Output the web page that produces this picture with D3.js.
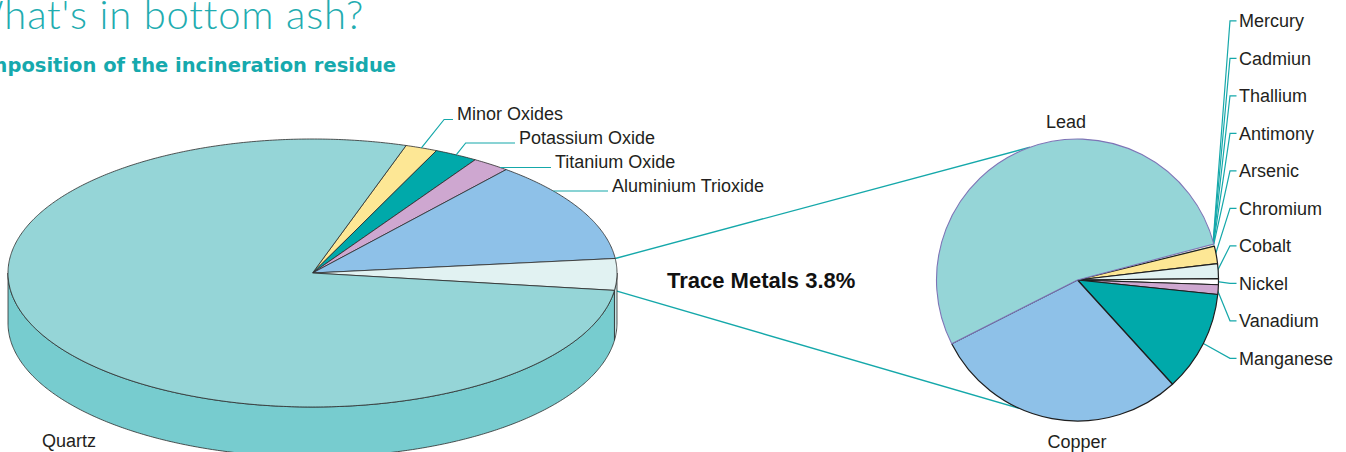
<!DOCTYPE html>
<html>
<head>
<meta charset="utf-8">
<script src="https://cdn.jsdelivr.net/npm/d3@7"></script>
<style>
  html, body { margin: 0; padding: 0; background: #fff; }
  svg { display: block; }
  text { font-family: "Liberation Sans", Arial, sans-serif; fill: #231f20; }
</style>
</head>
<body>
<svg id="chart" width="1346" height="452"></svg>
<script>
// composition of the residue, % (clockwise from Minor Oxides)
const residueNames = ["Minor Oxides", "Potassium Oxide", "Titanium Oxide", "Aluminium Trioxide", "Trace Metals", "Quartz"];
const residueValues = [1.7, 2.3, 2.0, 12.3, 3.8, 77.9];

// split of the trace metals, %
const metalNames = ["Mercury", "Cadmiun", "Thallium", "Antimony", "Arsenic", "Chromium",
  "Cobalt", "Nickel", "Vanadium", "Manganese", "Copper", "Lead"];
const metalValues = [0.05, 0.05, 0.05, 0.05, 0.05, 2.0, 1.7, 0.7, 1.1, 11.6, 29.3, 53.35];

const TITLE = "What's in bottom ash?";
const SUBTITLE = "Composition of the incineration residue";

const residueColors = ["#fde795", "#00a9aa", "#cea7d0", "#8ec1e8", "#e1f2f2", "#95d5d7"];
const residueSide   = ["#e8d27d", "#00979a", "#bb93bd", "#79aed6", "#c9e4e4", "#77cccf"];
const metalColors = ["#8ec1e8", "#cea7d0", "#fde795", "#e1f2f2", "#00a9aa", "#fde795",
  "#e1f2f2", "#ffffff", "#cea7d0", "#00a9aa", "#8ec1e8", "#95d5d7"];
const LEADER = "#15a8aa";
const deg = Math.PI / 180;

const svg = d3.select( "#chart" );

// titles (cut off at the left edge, like the page they come from)
svg.append( "text" )
  .attr( "x", 364 ).attr( "y", 29 )
  .attr( "text-anchor", "end" )
  .style( "font-family", "Lato, 'Open Sans', sans-serif" )
  .style( "font-weight", 300 )
  .style( "font-size", "40px" )
  .style( "letter-spacing", "0.8px" )
  .style( "fill", "#22acb0" )
  .text( TITLE );
svg.append( "text" )
  .attr( "x", 396 ).attr( "y", 72 )
  .attr( "text-anchor", "end" )
  .style( "font-family", "'DejaVu Sans', sans-serif" )
  .style( "font-weight", "bold" )
  .style( "font-size", "19.5px" )
  .style( "fill", "#16a9ad" )
  .text( SUBTITLE );

// ---------- left 3D pie ----------
const L = { cx: 312.5, cy: 273, rx: 304.5, ry: 134, depth: 50 };
const startL = 17.9 * deg;
const residue = residueNames.map( ( name, i ) => ( { name, value: residueValues[i], i } ) );
const arcsL = d3.pie().sort( null ).value( d => d.value )
  .startAngle( startL ).endAngle( startL + 2 * Math.PI )( residue );

const ePt = ( a, dy = 0 ) => [ L.cx + L.rx * Math.sin( a ), L.cy - L.ry * Math.cos( a ) + dy ];
const sampleAngles = ( a0, a1 ) => {
  const n = Math.max( 2, Math.ceil( ( a1 - a0 ) / ( 0.5 * deg ) ) );
  return d3.range( n + 1 ).map( k => a0 + ( a1 - a0 ) * k / n );
};
const line = d3.line();

// trace metal connector geometry
const trace = arcsL.find( d => d.data.name === "Trace Metals" );
const R = { cx: 1077.5, cy: 280, r: 141 };
const cPt = ( a, r = R.r ) => [ R.cx + r * Math.sin( a ), R.cy - r * Math.cos( a ) ];

svg.append( "g" ).selectAll( "line" )
  .data( [ [ ePt( trace.startAngle ), cPt( -19.7 * deg ) ], [ ePt( trace.endAngle ), cPt( 204.4 * deg ) ] ] )
  .join( "line" )
  .attr( "x1", d => d[0][0] ).attr( "y1", d => d[0][1] )
  .attr( "x2", d => d[1][0] ).attr( "y2", d => d[1][1] )
  .attr( "stroke", LEADER ).attr( "stroke-width", 1.4 );

const gL = svg.append( "g" );

// side wall: front half only (90..270 deg)
gL.selectAll( "path.side" )
  .data( arcsL.filter( d => Math.min( d.endAngle, 270 * deg ) > Math.max( d.startAngle, 90 * deg ) ) )
  .join( "path" )
  .attr( "class", "side" )
  .attr( "d", d => {
    const angs = sampleAngles( Math.max( d.startAngle, 90 * deg ), Math.min( d.endAngle, 270 * deg ) );
    const pts = angs.map( a => ePt( a ) ).concat( angs.slice().reverse().map( a => ePt( a, L.depth ) ) );
    return line( pts ) + "Z";
  } )
  .attr( "fill", d => residueSide[d.data.i] )
  .attr( "stroke", "#2b2b2b" ).attr( "stroke-width", 0.8 );

// top face
gL.selectAll( "path.top" )
  .data( arcsL )
  .join( "path" )
  .attr( "class", "top" )
  .attr( "d", d => line( [ [ L.cx, L.cy ] ].concat( sampleAngles( d.startAngle, d.endAngle ).map( a => ePt( a ) ) ) ) + "Z" )
  .attr( "fill", d => residueColors[d.data.i] )
  .attr( "stroke", "#2b2b2b" ).attr( "stroke-width", 0.8 ).attr( "stroke-linejoin", "round" );

// left labels with leaders
const leftLabelPos = [ [ 457, 120 ], [ 519, 143.5 ], [ 555, 168 ], [ 612, 191.5 ] ];
const leftLabelled = arcsL.slice( 0, 4 );
leftLabelled.forEach( ( d, k ) => {
  const [ lx, ly ] = leftLabelPos[k];
  const yLine = ly - 0.5;
  const c = ( L.cy - yLine ) / L.ry;
  const aHit = Math.abs( c ) <= 1 ? Math.acos( c ) : NaN;
  let pts;
  if ( aHit >= d.startAngle && aHit <= d.endAngle ) {
    pts = [ [ L.cx + L.rx * Math.sin( aHit ), yLine ], [ lx - 4, yLine ] ];
  } else {
    const p = ePt( ( d.startAngle + d.endAngle ) / 2 );
    pts = [ p, [ p[0] + ( p[1] - yLine ) * 0.8, yLine ], [ lx - 4, yLine ] ];
  }
  gL.append( "path" ).attr( "d", line( pts ) )
    .attr( "fill", "none" ).attr( "stroke", LEADER ).attr( "stroke-width", 1.2 );
  gL.append( "text" ).attr( "x", lx ).attr( "y", ly )
    .style( "font-size", "18px" ).text( d.data.name );
} );

svg.append( "text" ).attr( "x", 42 ).attr( "y", 447 )
  .style( "font-size", "18px" ).text( "Quartz" );

svg.append( "text" ).attr( "x", 667 ).attr( "y", 288 )
  .style( "font-size", "22px" ).style( "font-weight", "bold" ).style( "fill", "#111" )
  .text( `Trace Metals ${d3.format( ".1f" )( trace.data.value )}%` );

// ---------- right pie ----------
const metals = metalNames.map( ( name, i ) => ( { name, value: metalValues[i], i } ) );
const startR = 75.2 * deg;
const arcsR = d3.pie().sort( null ).value( d => d.value )
  .startAngle( startR ).endAngle( startR + 2 * Math.PI )( metals );
const arcR = d3.arc().innerRadius( 0 ).outerRadius( R.r );

const gR = svg.append( "g" );

// leaders for the small slices (drawn under the pie)
const labelTop = 27.3, labelStep = 37.5, labelX = 1239;
arcsR.slice( 0, 10 ).forEach( ( d, k ) => {
  const ly = labelTop + k * labelStep;
  const yLine = ly - 6.5;
  const p = cPt( ( d.startAngle + d.endAngle ) / 2, R.r - 1 );
  const pts = [ p, [ 1230, yLine ], [ labelX - 2.5, yLine ] ];
  gR.append( "path" ).attr( "d", line( pts ) )
    .attr( "fill", "none" ).attr( "stroke", LEADER ).attr( "stroke-width", 1.2 );
  gR.append( "text" ).attr( "x", labelX ).attr( "y", ly )
    .style( "font-size", "18px" ).text( d.data.name );
} );

gR.append( "g" )
  .attr( "transform", `translate(${R.cx},${R.cy})` )
  .selectAll( "path" )
  .data( arcsR )
  .join( "path" )
  .attr( "d", arcR )
  .attr( "fill", d => metalColors[d.data.i] )
  .attr( "stroke", d => d.value < 0.5 ? "none" : ( d.data.name === "Lead" ? "#7e74b6" : "#1e1e1e" ) )
  .attr( "stroke-width", d => d.data.name === "Lead" ? 1.1 : 1.2 )
  .attr( "stroke-linejoin", "round" );

gR.append( "text" ).attr( "x", 1066 ).attr( "y", 128 ).attr( "text-anchor", "middle" )
  .style( "font-size", "18px" ).text( "Lead" );
gR.append( "text" ).attr( "x", 1077 ).attr( "y", 448 ).attr( "text-anchor", "middle" )
  .style( "font-size", "18px" ).text( "Copper" );
</script>
</body>
</html>
